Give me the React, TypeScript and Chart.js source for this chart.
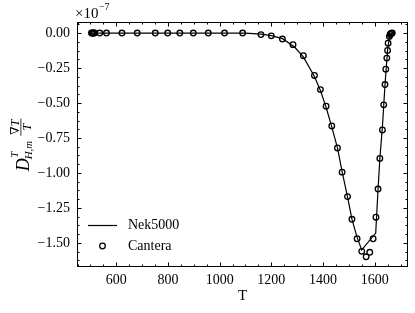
import React, { useEffect, useRef } from "react";
import { Chart, registerables } from "chart.js";

Chart.register(...registerables);

// ---- data (values in units of 1e-7) ----
const canteraT = [504, 507, 510, 513, 515, 536, 562, 622, 681, 751, 799, 846, 898, 956, 1019, 1089, 1160, 1200, 1243, 1284, 1324, 1367, 1390, 1412, 1434, 1456, 1474, 1495, 1512, 1532, 1550, 1567, 1581, 1594, 1605, 1613, 1620, 1630, 1635, 1640, 1643, 1647, 1650, 1652, 1657, 1660, 1662, 1664, 1666, 1668];
const canteraY = [0, 0, 0, 0, 0, 0, 0, 0, 0, 0, 0, 0, 0, 0, 0, 0, -0.011, -0.02, -0.043, -0.083, -0.162, -0.303, -0.404, -0.523, -0.664, -0.821, -0.994, -1.169, -1.331, -1.47, -1.56, -1.599, -1.567, -1.47, -1.316, -1.115, -0.896, -0.693, -0.513, -0.368, -0.258, -0.179, -0.124, -0.072, -0.024, -0.01, -0.005, -0.002, -0.001, 0];
const nekT = [504, 1100, 1160, 1200, 1243, 1290, 1324, 1367, 1390, 1412, 1434, 1456, 1474, 1495, 1512, 1532, 1550, 1604, 1613, 1620, 1630, 1640, 1650, 1657, 1665, 1668];
const nekY = [0, 0, -0.008, -0.018, -0.04, -0.1, -0.17, -0.31, -0.41, -0.53, -0.67, -0.82, -0.99, -1.17, -1.33, -1.46, -1.55, -1.43, -1.12, -0.9, -0.67, -0.37, -0.12, -0.03, 0, 0];
const xTicks = [600, 800, 1000, 1200, 1400, 1600];
const yTicks = [0, -0.25, -0.5, -0.75, -1.0, -1.25, -1.5];
const seriesNames = ["Nek5000", "Cantera"];
const xTitle = "T";
const exponentText = ["×10", "−7"];

const SERIF = '"Liberation Serif", "DejaVu Serif", serif';

function drawYLabel(ctx: CanvasRenderingContext2D) {
  ctx.save();
  ctx.translate(22, 145);
  ctx.rotate(-Math.PI / 2);
  ctx.fillStyle = "#000";
  ctx.textBaseline = "alphabetic";
  const fBig = `italic 18px ${SERIF}`;
  const fSm = `italic 11px ${SERIF}`;
  const fFr = `italic 12px ${SERIF}`;
  ctx.font = fBig;
  const wD = ctx.measureText("D").width;
  ctx.font = fSm;
  const wSup = ctx.measureText("T").width;
  const wSub = ctx.measureText("H,m").width;
  ctx.font = fFr;
  const wNum = ctx.measureText("∇T").width;
  const wDen = ctx.measureText("T").width;
  const wF = Math.max(wNum, wDen) + 2;
  const total = wD + Math.max(wSup, wSub) + 4 + wF;
  const x0 = -total / 2;
  ctx.font = fBig;
  ctx.fillText("D", x0, 7);
  ctx.font = fSm;
  ctx.fillText("T", x0 + wD + 0.5, -4);
  ctx.fillText("H,m", x0 + wD - 1, 10);
  const x1 = x0 + wD + Math.max(wSup, wSub) + 4;
  ctx.font = fFr;
  ctx.fillText("∇T", x1 + (wF - wNum) / 2, -3.5);
  ctx.fillText("T", x1 + (wF - wDen) / 2, 9);
  ctx.fillRect(x1, -1.5, wF, 0.8);
  ctx.restore();
}

const decor = {
  id: "decor",
  afterDatasetsDraw(chart: any) {
    const { ctx, chartArea: a, scales } = chart;
    const xs = scales.x;
    const ys = scales.y;
    ctx.save();
    ctx.strokeStyle = "#000";
    ctx.lineWidth = 1;
    const L = Math.round(a.left) + 0.5;
    const R = Math.round(a.right) - 0.5;
    const T = Math.round(a.top) + 0.5;
    const B = Math.round(a.bottom) - 0.5;
    ctx.strokeRect(L, T, R - L, B - T);
    ctx.beginPath();
    for (let v = 450; v <= 1725; v += 50) {
      const major = xTicks.includes(v);
      const len = major ? 4 : 2;
      const px = Math.round(xs.getPixelForValue(v)) + 0.5;
      ctx.moveTo(px, B); ctx.lineTo(px, B - len);
      ctx.moveTo(px, T); ctx.lineTo(px, T + len);
    }
    for (let i = -26; i <= 1; i++) {
      const v = i * 0.0625;
      if (v < ys.min || v > ys.max) continue;
      const major = i % 4 === 0;
      const len = major ? 4 : 2;
      const py = Math.round(ys.getPixelForValue(v)) + 0.5;
      ctx.moveTo(L, py); ctx.lineTo(L + len, py);
      ctx.moveTo(R, py); ctx.lineTo(R - len, py);
    }
    ctx.stroke();

    // exponent
    ctx.fillStyle = "#000";
    ctx.textBaseline = "alphabetic";
    ctx.font = `15px ${SERIF}`;
    ctx.fillText(exponentText[0], 75, 18);
    const w = ctx.measureText(exponentText[0]).width;
    ctx.font = `10px ${SERIF}`;
    ctx.fillText(exponentText[1], 75 + w + 0.5, 10);

    // legend
    ctx.beginPath();
    ctx.lineWidth = 1.2;
    ctx.moveTo(88, 225.5); ctx.lineTo(117, 225.5);
    ctx.stroke();
    ctx.beginPath();
    ctx.lineWidth = 1.3;
    ctx.arc(102.5, 246, 2.8, 0, Math.PI * 2);
    ctx.stroke();
    ctx.font = `14px ${SERIF}`;
    ctx.textBaseline = "middle";
    ctx.fillText(seriesNames[0], 128, 225);
    ctx.fillText(seriesNames[1], 128, 246);

    drawYLabel(ctx);
    ctx.restore();
  },
};

export default function App() {
  const ref = useRef<HTMLCanvasElement>(null);
  useEffect(() => {
    if (!ref.current) return;
    const chart = new Chart(ref.current, {
      type: "scatter",
      data: {
        datasets: [
          {
            label: seriesNames[1],
            data: canteraT.map((t, i) => ({ x: t, y: canteraY[i] })),
            showLine: false,
            pointRadius: 2.8,
            pointBorderWidth: 1.3,
            pointBackgroundColor: "rgba(0,0,0,0)",
            pointBorderColor: "#000",
            borderColor: "#000",
          },
          {
            label: seriesNames[0],
            data: nekT.map((t, i) => ({ x: t, y: nekY[i] })),
            showLine: true,
            pointRadius: 0,
            borderColor: "#000",
            borderWidth: 1.2,
            tension: 0,
          },
        ],
      },
      options: {
        animation: false,
        responsive: false,
        maintainAspectRatio: false,
        layout: { padding: { top: 22, right: 7, left: 0, bottom: 0 } },
        plugins: { legend: { display: false }, tooltip: { enabled: false } },
        scales: {
          x: {
            type: "linear",
            min: 448,
            max: 1729,
            grid: { display: false, drawTicks: false },
            border: { display: false },
            afterBuildTicks: (s: any) => { s.ticks = xTicks.map((v) => ({ value: v })); },
            afterFit: (s: any) => { s.height = 46; },
            ticks: {
              color: "#000",
              font: { family: SERIF, size: 14 },
              padding: 5,
              maxRotation: 0,
              autoSkip: false,
              callback: (v: any) => String(v),
            },
            title: {
              display: true,
              text: xTitle,
              color: "#000",
              font: { family: SERIF, size: 15 },
              padding: { top: 0, bottom: 8 },
            },
          },
          y: {
            type: "linear",
            min: -1.672,
            max: 0.079,
            grid: { display: false, drawTicks: false },
            border: { display: false },
            afterBuildTicks: (s: any) => { s.ticks = yTicks.map((v) => ({ value: v })); },
            afterFit: (s: any) => { s.width = 77; },
            ticks: {
              color: "#000",
              font: { family: SERIF, size: 14 },
              padding: 7,
              autoSkip: false,
              callback: (v: any) => (v < 0 ? "−" : "") + Math.abs(Number(v)).toFixed(2),
            },
          },
        },
      },
      plugins: [decor],
    });
    return () => chart.destroy();
  }, []);
  return (
    <div style={{ position: "absolute", left: 0, top: 0, width: 415, height: 313, background: "#fff" }}>
      <canvas ref={ref} width={415} height={313} />
    </div>
  );
}
